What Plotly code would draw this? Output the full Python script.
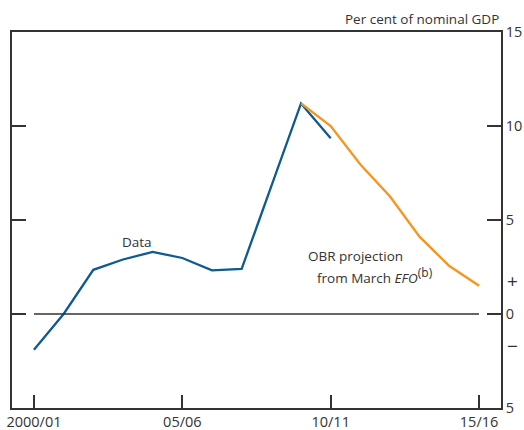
import plotly.graph_objects as go

years = ["2000/01", "01/02", "02/03", "03/04", "04/05", "05/06", "06/07", "07/08",
         "08/09", "09/10", "10/11", "11/12", "12/13", "13/14", "14/15", "15/16"]
data_vals = [-1.9, 0.0, 2.35, 2.9, 3.3, 2.98, 2.32, 2.4, 6.8, 11.2, 9.35]
obr_vals = [11.2, 10.0, 7.95, 6.25, 4.1, 2.55, 1.5]
obr_start = 9  # 09/10

tick_pos = [0, 5, 10, 15]
tick_text = ["2000/01", "05/06", "10/11", "15/16"]
y_ticks = [-5, 0, 5, 10, 15]
y_text = ["5", "0", "5", "10", "15"]

x_data = list(range(len(data_vals)))
x_obr = list(range(obr_start, obr_start + len(obr_vals)))

grey = "#333333"
fnt = dict(family="Open Sans", size=13.5, color=grey)
tick_fnt = dict(family="Open Sans", size=14.5, color=grey)

fig = go.Figure()
fig.add_trace(go.Scatter(x=x_data, y=data_vals, mode="lines",
                         line=dict(color="#0f5a8e", width=2.3)))
fig.add_trace(go.Scatter(x=x_obr, y=obr_vals, mode="lines",
                         line=dict(color="#f7941e", width=2.3)))

# zero line
fig.add_shape(type="line", x0=0, x1=15, y0=0, y1=0,
              line=dict(color=grey, width=1.4), layer="above")

fig.update_layout(
    width=524, height=430,
    margin=dict(l=12, r=23, t=32, b=22),
    paper_bgcolor="white", plot_bgcolor="white",
    showlegend=False,
    font=fnt,
    xaxis=dict(range=[-0.74, 15.74], tickvals=tick_pos, ticktext=tick_text,
               ticks="inside", ticklen=13, tickcolor=grey, tickwidth=1.5,
               showline=True, linecolor=grey, linewidth=1.5, mirror=True,
               showgrid=False, zeroline=False, tickfont=tick_fnt, automargin=False),
    yaxis=dict(range=[-5, 15], side="right", tickvals=y_ticks, ticktext=y_text,
               ticks="inside", ticklen=14, tickcolor=grey, tickwidth=1.5,
               showline=True, linecolor=grey, linewidth=1.5, mirror="ticks",
               showgrid=False, zeroline=False, tickfont=tick_fnt, automargin=False),
)

fig.add_annotation(text="Per cent of nominal GDP", xref="paper", yref="paper",
                   x=1, y=1, xanchor="right", yanchor="bottom", yshift=2,
                   showarrow=False, font=fnt)
sign_font = dict(family="Open Sans", size=19, color=grey)
fig.add_annotation(text="+", xref="paper", yref="y", x=1, y=1.77,
                   xanchor="center", xshift=11, showarrow=False, font=sign_font)
fig.add_annotation(text="−", xref="paper", yref="y", x=1, y=-1.7,
                   xanchor="center", xshift=11, showarrow=False, font=sign_font)
fig.add_annotation(text="Data", x=3.46, y=3.85, showarrow=False, font=fnt)
fig.add_annotation(text="OBR projection", x=10.85, y=3.09, showarrow=False, font=fnt)
fig.add_annotation(
    text="from March <i>EFO</i><sup><span style='font-size:12px'>(b)</span></sup>",
    x=11.49, y=2.07, showarrow=False, font=fnt)

fig.write_html("out.html", config={"displayModeBar": False},
               post_script="document.body.style.margin='0';")
